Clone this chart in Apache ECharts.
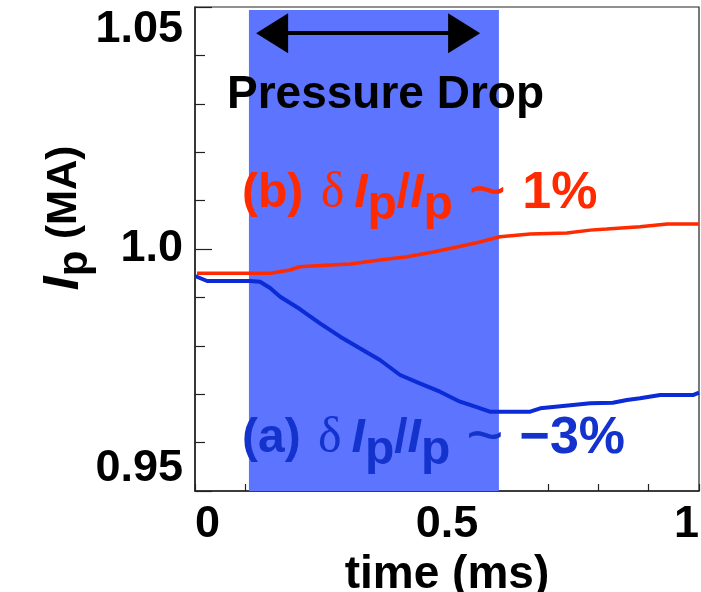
<!DOCTYPE html>
<html><head><meta charset="utf-8">
<script src="https://cdn.jsdelivr.net/npm/echarts@6/dist/echarts.min.js"></script>
<style>html,body{margin:0;padding:0;background:#fff}#c{width:701px;height:592px}</style>
</head><body><div id="c"></div>
<script>
// ---- data ----
const redT  = [0.004, 0.05, 0.10, 0.15, 0.188, 0.208, 0.25, 0.308, 0.367, 0.421, 0.472, 0.520, 0.565, 0.605, 0.665, 0.738, 0.784, 0.817, 0.883, 0.937, 1.0];
const redV  = [0.9950, 0.9950, 0.9950, 0.9950, 0.99566, 0.99634, 0.9966, 0.9969, 0.99773, 0.99841, 0.99938, 1.00041, 1.00145, 1.00254, 1.0031, 1.00331, 1.0039, 1.00413, 1.00461, 1.00517, 1.00517];
const blueT = [0, 0.024, 0.109, 0.129, 0.149, 0.169, 0.208, 0.248, 0.288, 0.327, 0.367, 0.407, 0.446, 0.486, 0.526, 0.556, 0.585, 0.665, 0.685, 0.750, 0.784, 0.829, 0.857, 0.883, 0.923, 0.988, 1.0];
const blueV = [0.99442, 0.99339, 0.99339, 0.99324, 0.99194, 0.99014, 0.98760, 0.98465, 0.98188, 0.97948, 0.97707, 0.97397, 0.97225, 0.97052, 0.96845, 0.96742, 0.96638, 0.96638, 0.96709, 0.96777, 0.96812, 0.96824, 0.9688, 0.96915, 0.96983, 0.96983, 0.97031];
const shadeRange = [0.107, 0.603];      // pressure drop interval (ms)
const shadeTop = 1.0494;
const arrowRange = [0.153, 0.534];
const arrowLevel = 1.0446;
const xTickLabels = {'0': '0', '0.5': '0.5', '1': '1'};
const yTickLabels = {'0.95': '{b|0.95}', '1': '{m|1.0}', '1.05': '{t|1.05}'};
const xTitle = 'time (ms)';
const annotTitle = 'Pressure Drop';
const redLabel = ['(b) ', '1%'];
const blueLabel = ['(a) ', '−3%'];

// ---- chart ----
const FF = '"Liberation Sans", Arial, sans-serif';
const SERIF = '"Liberation Serif", "Times New Roman", serif';
const RED = '#ff2a00', BLUE = '#0a2bd6', BLUE_TXT = '#1432cc', SHADE = '#5c74fe';
const zip = (a, b) => a.map((v, i) => [v, b[i]]);
const key = v => String(Math.round(v * 1000) / 1000);

function richFor(color) {
  return {
    a: {fontFamily: FF, fontWeight: 'bold', fontSize: 48, fill: color},
    v: {fontFamily: FF, fontWeight: 'bold', fontSize: 52, fill: color},
    d: {fontFamily: SERIF, fontSize: 50, fill: color, padding: [0, 10, 0, 4]},
    i: {fontFamily: FF, fontWeight: 'bold', fontStyle: 'italic', fontSize: 48, fill: color},
    s: {fontFamily: FF, fontWeight: 'bold', fontSize: 48, fill: color, padding: [24, 0, 0, 0]},
    t: {fontFamily: FF, fontSize: 64, fill: color, padding: [0, 16, 0, 16]}
  };
}
function labelText(parts) {
  return '{a|' + parts[0] + '}{d|δ}{i|I}{s|p}{a|/}{i|I}{s|p}{t|~}{v|' + parts[1] + '}';
}
const lblBase = {fontFamily: FF, fontWeight: 'bold', fontSize: 45, color: '#000'};

const chart = echarts.init(document.getElementById('c'), null, {renderer: 'canvas'});
chart.setOption({
  animation: false,
  grid: {left: 195, right: 2, top: 7, bottom: 101, show: true, borderColor: '#222', borderWidth: 1.2,
         backgroundColor: 'transparent', containLabel: false, outerBoundsMode: 'none'},
  xAxis: {
    type: 'value', min: 0, max: 1, interval: 0.1,
    axisLine: {lineStyle: {color: '#222', width: 1.5}},
    axisTick: {inside: true, length: 7, lineStyle: {color: '#222', width: 1.2}},
    splitLine: {show: false},
    axisLabel: Object.assign({}, lblBase, {
      margin: 11, showMinLabel: true, showMaxLabel: true,
      alignMinLabel: 'left', alignMaxLabel: 'right',
      formatter: v => xTickLabels[key(v)] || ''
    }),
    name: xTitle, nameLocation: 'middle', nameGap: 50,
    nameTextStyle: {fontFamily: FF, fontWeight: 'bold', fontSize: 46, color: '#000'}
  },
  yAxis: {
    type: 'value', min: 0.95, max: 1.05, interval: 0.05,
    axisLine: {show: true, lineStyle: {color: '#222', width: 1.5}},
    axisTick: {inside: true, length: 17, lineStyle: {color: '#222', width: 1.2}},
    minorTick: {show: true, splitNumber: 5, length: 10, lineStyle: {color: '#222', width: 1.2}},
    splitLine: {show: false}, minorSplitLine: {show: false},
    axisLabel: Object.assign({}, lblBase, {
      margin: 12, showMinLabel: true, showMaxLabel: true,
      formatter: v => yTickLabels[key(v)] || '',
      rich: {
        t: Object.assign({}, lblBase, {padding: [46, 0, 0, 0]}),
        m: Object.assign({}, lblBase),
        b: Object.assign({}, lblBase, {padding: [0, 0, 44, 0]})
      }
    })
  },
  series: [
    {
      type: 'line', data: [], z: 1, silent: true,
      markArea: {silent: true, z: 1, itemStyle: {color: SHADE, opacity: 1},
        data: [[{xAxis: shadeRange[0], yAxis: 0.95}, {xAxis: shadeRange[1], yAxis: shadeTop}]]},
      markLine: {silent: true, z: 5, symbol: ['triangle', 'triangle'], symbolSize: [40, 32],
        lineStyle: {color: '#000', width: 4, type: 'solid'}, itemStyle: {color: '#000'},
        label: {show: false}, emphasis: {disabled: true},
        data: [[{coord: [arrowRange[0], arrowLevel]}, {coord: [arrowRange[1], arrowLevel]}]]}
    },
    {type: 'line', data: zip(redT, redV), symbol: 'none', z: 3, silent: true,
     lineStyle: {color: RED, width: 3.5}},
    {type: 'line', data: zip(blueT, blueV), symbol: 'none', z: 3, silent: true,
     lineStyle: {color: BLUE, width: 4}}
  ],
  graphic: [
    {type: 'text', x: 227, y: 95, z: 10,
     style: {text: annotTitle, font: 'bold 46px ' + FF, fill: '#000', align: 'left', verticalAlign: 'middle'}},
    {type: 'text', x: 242, y: 194, z: 10,
     style: {text: labelText(redLabel), rich: richFor(RED),
             fill: RED, font: 'bold 48px ' + FF, align: 'left', verticalAlign: 'middle'}},
    {type: 'text', x: 242, y: 439, z: 10,
     style: {text: labelText(blueLabel), rich: richFor(BLUE_TXT),
             fill: BLUE_TXT, font: 'bold 48px ' + FF, align: 'left', verticalAlign: 'middle'}},
    {type: 'text', x: 64, y: 218, rotation: Math.PI / 2, z: 10,
     style: {text: '{i|I}{s|p}{a| (MA)}', align: 'center', verticalAlign: 'middle', fill: '#000',
       rich: {
         i: {fontFamily: FF, fontWeight: 'bold', fontStyle: 'italic', fontSize: 50, fill: '#000'},
         s: {fontFamily: FF, fontWeight: 'bold', fontSize: 42, fill: '#000', padding: [22, 0, 0, 0]},
         a: {fontFamily: FF, fontWeight: 'bold', fontSize: 42, fill: '#000'}
       }}}
  ]
});
</script>
</body></html>
